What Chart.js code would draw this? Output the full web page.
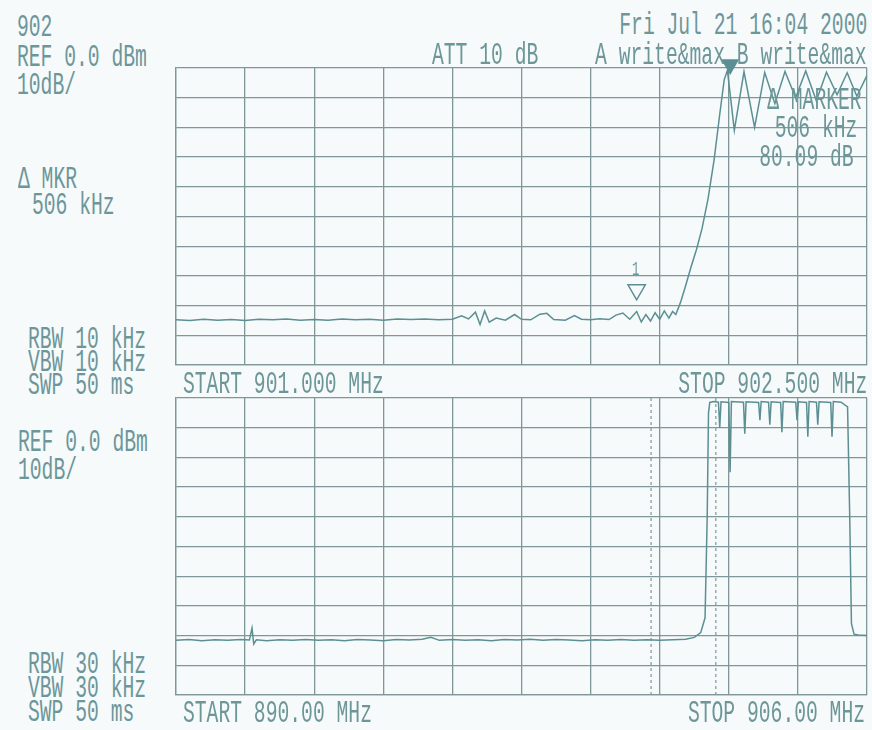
<!DOCTYPE html>
<html>
<head>
<meta charset="utf-8">
<script src="https://cdn.jsdelivr.net/npm/chart.js@4.4.0/dist/chart.umd.min.js"></script>
<style>
  html, body { margin: 0; padding: 0; }
  body { width: 872px; height: 730px; background: #f6fafb; position: relative; overflow: hidden; }
  canvas { position: absolute; left: 172px; }
  #topChart { top: 50px; }
  #bottomChart { top: 380px; }
  .t { position: absolute; font-family: 'Liberation Mono', monospace; font-size: 32px; line-height: 32px;
       color: #6d9699; white-space: pre; transform: scaleX(0.615); transform-origin: left top; }
  .r { transform-origin: right top; }
  .s { font-size: 20px; line-height: 20px; }
</style>
</head>
<body>
<canvas id="topChart" width="699" height="319"></canvas>
<canvas id="bottomChart" width="699" height="319"></canvas>

<div class="t" style="left:17px;top:12px">902</div>
<div class="t" style="left:17px;top:42px">REF 0.0 dBm</div>
<div class="t" style="left:17px;top:70px">10dB/</div>
<div class="t" style="left:18px;top:164px">Δ MKR</div>
<div class="t" style="left:32px;top:190px">506 kHz</div>
<div class="t" style="left:28px;top:324px">RBW 10 kHz</div>
<div class="t" style="left:28px;top:347px">VBW 10 kHz</div>
<div class="t" style="left:28px;top:370px">SWP 50 ms</div>
<div class="t" style="left:183px;top:369px">START 901.000 MHz</div>
<div class="t r" style="right:5px;top:369px">STOP 902.500 MHz</div>
<div class="t" style="left:432px;top:40px">ATT 10 dB</div>
<div class="t r" style="right:5px;top:10px">Fri Jul 21 16:04 2000</div>
<div class="t r" style="right:5px;top:40px">A write&amp;max B write&amp;max</div>
<div class="t r" style="right:10px;top:85px">Δ MARKER</div>
<div class="t r" style="right:15px;top:113px">506 kHz</div>
<div class="t r" style="right:18px;top:142px">80.09 dB</div>
<div class="t s" style="left:632px;top:260px">1</div>

<div class="t" style="left:18px;top:427px">REF 0.0 dBm</div>
<div class="t" style="left:18px;top:455px">10dB/</div>
<div class="t" style="left:28px;top:649px">RBW 30 kHz</div>
<div class="t" style="left:28px;top:673px">VBW 30 kHz</div>
<div class="t" style="left:28px;top:697px">SWP 50 ms</div>
<div class="t" style="left:183px;top:698px">START 890.00 MHz</div>
<div class="t r" style="right:7px;top:698px">STOP 906.00 MHz</div>

<script>
// reference level 0 dBm, 10 dB/div
const levelTicks = [-100, -90, -80, -70, -60, -50, -40, -30, -20, -10, 0];

// upper trace: 901.000 - 902.500 MHz
const topTicks = [901.00, 901.15, 901.30, 901.45, 901.60, 901.75, 901.90, 902.05, 902.20, 902.35, 902.50];
const topFreq = [
  901.000, 901.030, 901.060, 901.090, 901.120, 901.150, 901.180, 901.210, 901.240, 901.270,
  901.300, 901.330, 901.360, 901.390, 901.420, 901.450, 901.480, 901.510, 901.540, 901.570,
  901.600, 901.620, 901.635, 901.650, 901.660, 901.670, 901.680, 901.695, 901.715, 901.735,
  901.750, 901.770, 901.790, 901.805, 901.820, 901.845, 901.865, 901.880, 901.900, 901.920,
  901.940, 901.955, 901.970, 901.985, 902.000, 902.010, 902.020, 902.030, 902.040, 902.050,
  902.060, 902.070, 902.078, 902.085, 902.095, 902.105, 902.118, 902.130, 902.142, 902.155,
  902.168, 902.180, 902.190, 902.197, 902.212, 902.233, 902.256, 902.278, 902.300, 902.322,
  902.345, 902.367, 902.390, 902.412, 902.435, 902.457, 902.478, 902.500
];
const topLevel = [
  -84.8, -85.0, -84.6, -84.9, -84.7, -85.0, -84.6, -84.8, -84.5, -84.9,
  -84.7, -84.9, -84.5, -84.8, -84.6, -84.9, -84.5, -84.7, -84.5, -84.8,
  -84.6, -83.4, -84.5, -82.2, -86.4, -81.8, -85.6, -84.2, -84.9, -83.0,
  -84.6, -84.8, -82.9, -82.6, -84.7, -84.9, -83.4, -84.6, -84.8, -84.4,
  -84.7, -83.2, -82.5, -84.6, -82.0, -85.5, -83.0, -85.2, -82.4, -84.6,
  -81.8, -84.2, -82.0, -83.0, -79.0, -74.0, -67.0, -61.0, -54.0, -44.0,
  -31.0, -16.0, -4.0, -0.8, -21.0, -1.2, -20.0, -1.5, -12.0, -1.2,
  -10.0, -1.0, -11.0, -1.4, -9.0, -1.6, -9.5, -2.5
];

// lower trace: 890.00 - 906.00 MHz
const bottomTicks = [890.0, 891.6, 893.2, 894.8, 896.4, 898.0, 899.6, 901.2, 902.8, 904.4, 906.0];
const bottomFreq = [
  890.00, 890.30, 890.60, 890.90, 891.20, 891.50, 891.70, 891.76, 891.80, 891.86,
  892.10, 892.40, 892.70, 893.00, 893.30, 893.60, 893.90, 894.20, 894.50, 894.80,
  895.10, 895.40, 895.70, 895.90, 896.10, 896.40, 896.70, 897.00, 897.30, 897.60,
  897.90, 898.20, 898.50, 898.80, 899.10, 899.40, 899.70, 900.00, 900.30, 900.60,
  900.90, 901.20, 901.50, 901.80, 902.00, 902.15, 902.25, 902.30, 902.33, 902.36,
  902.45, 902.56, 902.59, 902.62, 902.80, 902.83, 902.86, 903.14, 903.17, 903.20,
  903.49, 903.52, 903.55, 903.72, 903.75, 903.78, 904.00, 904.03, 904.06, 904.35,
  904.38, 904.41, 904.60, 904.63, 904.66, 904.83, 904.86, 904.89, 905.16, 905.19,
  905.22, 905.40, 905.55, 905.60, 905.64, 905.70, 905.80, 906.00
];
const bottomLevel = [
  -81.6, -81.3, -81.7, -81.4, -81.6, -81.3, -81.5, -77.5, -82.8, -81.4,
  -81.7, -81.4, -81.6, -81.3, -81.6, -81.4, -81.7, -81.3, -81.5, -81.7,
  -81.3, -81.5, -81.2, -80.6, -81.6, -81.3, -81.6, -81.4, -81.7, -81.3,
  -81.5, -81.2, -81.6, -81.3, -81.5, -81.7, -81.4, -81.6, -81.3, -81.6,
  -81.4, -81.6, -81.4, -81.2, -80.6, -79.0, -74.0, -40.0, -5.0, -1.5,
  -1.2, -1.4, -10.0, -1.3, -1.5, -25.0, -1.2, -1.4, -12.0, -1.3,
  -1.5, -7.5, -1.2, -1.4, -9.0, -1.3, -1.5, -11.5, -1.2, -1.4,
  -7.5, -1.3, -1.5, -13.0, -1.2, -1.4, -9.0, -1.3, -1.5, -13.0,
  -1.2, -1.4, -3.0, -40.0, -76.0, -79.5, -79.8, -80.0
];

// markers and zoom span
const marker1 = { freq: 902.00, level: -74.7 };
const markerDelta = { freq: 902.203, level: 1.2 };
const spanEdges = [901.0, 902.5];

const gridColor = '#7f9799';
const traceColor = '#5b8f93';

function toPoints(xs, ys) {
  return xs.map((x, i) => ({ x: x, y: ys[i] }));
}

function makeChart(id, xMin, xMax, xTicks, datasets) {
  return new Chart(document.getElementById(id), {
    type: 'line',
    data: { datasets },
    options: {
      responsive: false,
      animation: false,
      events: [],
      layout: { autoPadding: false, padding: { top: 18, left: 4, right: 4, bottom: 4 } },
      plugins: { legend: { display: false }, tooltip: { enabled: false } },
      elements: { point: { radius: 0 }, line: { tension: 0 } },
      scales: {
        x: {
          type: 'linear', min: xMin, max: xMax,
          afterBuildTicks: s => { s.ticks = xTicks.map(v => ({ value: v })); },
          ticks: { display: false },
          grid: { color: gridColor, lineWidth: 1.3, drawTicks: false },
          border: { color: gridColor, width: 1.3 }
        },
        y: {
          min: -100, max: 0,
          afterBuildTicks: s => { s.ticks = levelTicks.map(v => ({ value: v })); },
          ticks: { display: false },
          grid: { color: gridColor, lineWidth: 1.3, drawTicks: false },
          border: { color: gridColor, width: 1.3 }
        }
      }
    }
  });
}

const markerStyle = {
  showLine: false, pointStyle: 'triangle', rotation: 180,
  borderColor: traceColor, borderWidth: 1.5, clip: false
};

makeChart('topChart', 901.0, 902.5, topTicks, [
  Object.assign({ data: [{ x: markerDelta.freq, y: markerDelta.level }], pointRadius: 9, backgroundColor: traceColor }, markerStyle),
  Object.assign({ data: [{ x: marker1.freq, y: marker1.level }], pointRadius: 10, backgroundColor: 'rgba(0,0,0,0)' }, markerStyle),
  { data: toPoints(topFreq, topLevel), borderColor: traceColor, borderWidth: 1.5, pointRadius: 0 }
]);

makeChart('bottomChart', 890.0, 906.0, bottomTicks, [
  { data: toPoints(bottomFreq, bottomLevel), borderColor: traceColor, borderWidth: 1.5, pointRadius: 0 },
  { data: [{ x: spanEdges[0], y: 0 }, { x: spanEdges[0], y: -100 }], borderColor: gridColor, borderWidth: 1.2, borderDash: [3, 3], pointRadius: 0 },
  { data: [{ x: spanEdges[1], y: 0 }, { x: spanEdges[1], y: -100 }], borderColor: gridColor, borderWidth: 1.2, borderDash: [3, 3], pointRadius: 0 }
]);
</script>
</body>
</html>
